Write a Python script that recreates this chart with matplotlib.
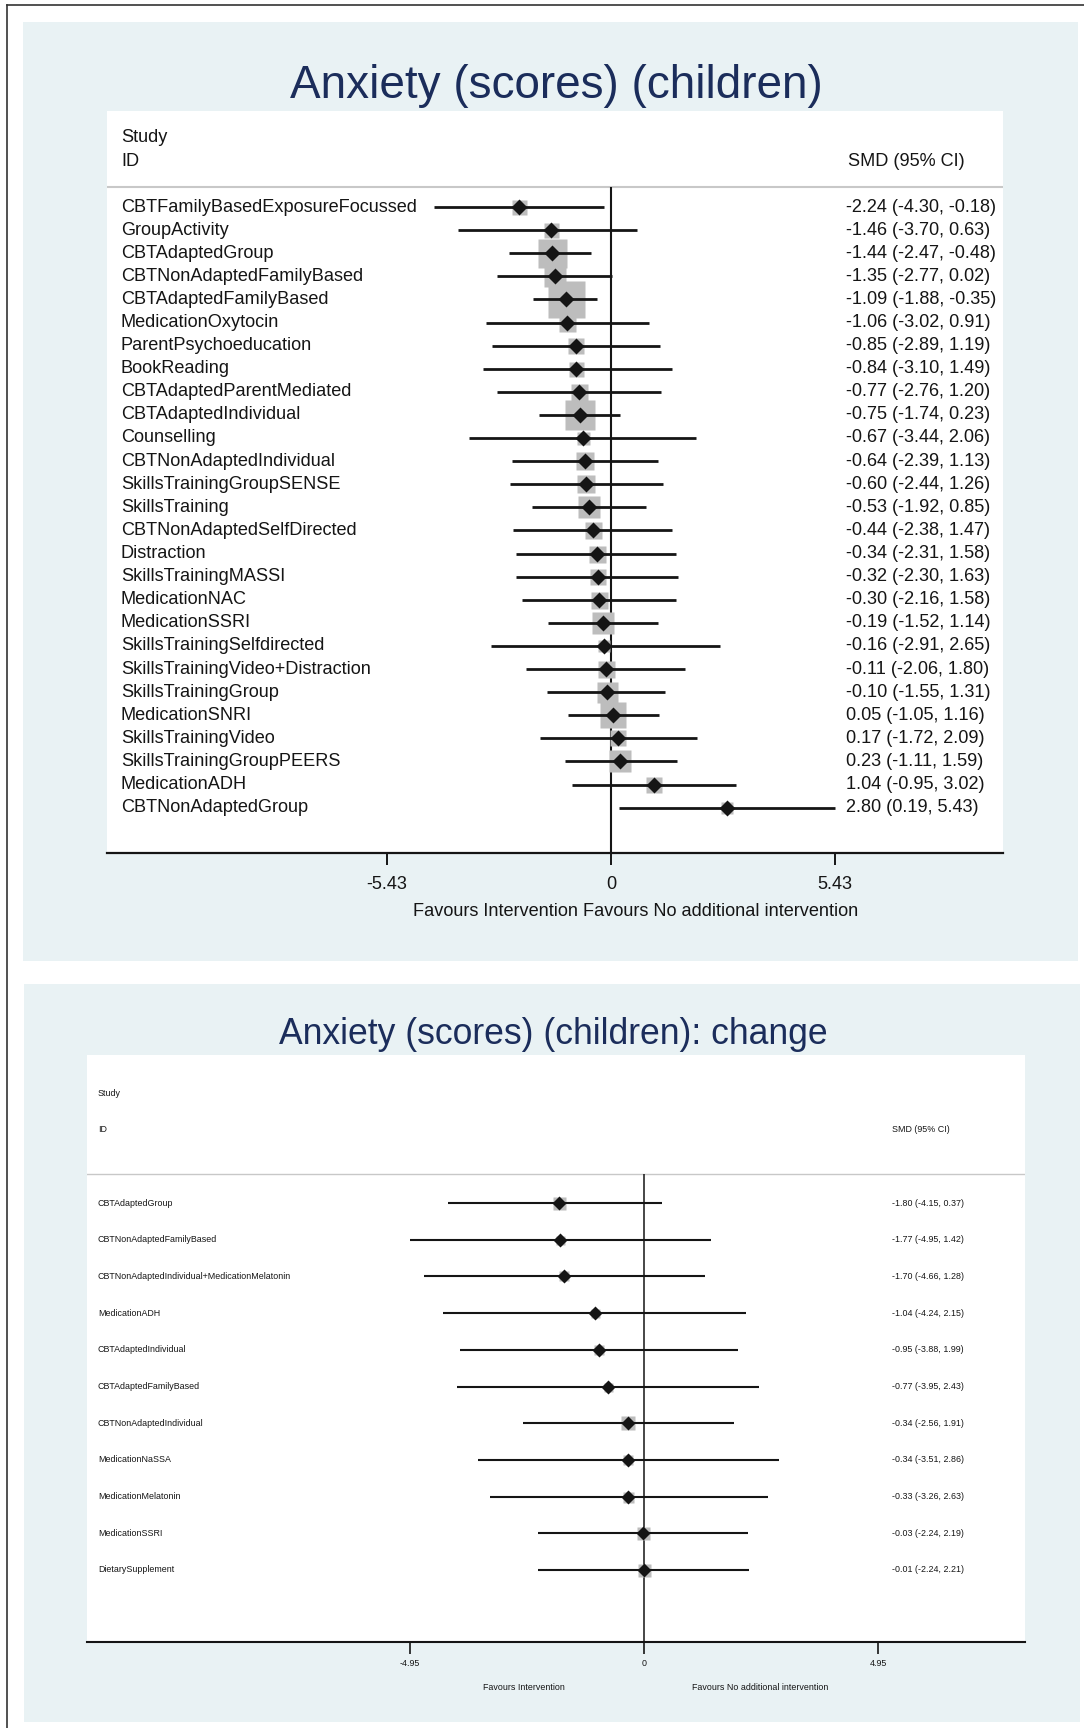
import matplotlib
matplotlib.use("Agg")
import matplotlib.pyplot as plt
import matplotlib.transforms as mtransforms
from matplotlib.patches import Rectangle
from matplotlib.lines import Line2D

plt.rcParams['font.family'] = ['Liberation Sans', 'DejaVu Sans']

# ---------------- data: top panel ----------------
title_top = "Anxiety (scores) (children)"
studies_top = [
    "CBTFamilyBasedExposureFocussed", "GroupActivity", "CBTAdaptedGroup",
    "CBTNonAdaptedFamilyBased", "CBTAdaptedFamilyBased", "MedicationOxytocin",
    "ParentPsychoeducation", "BookReading", "CBTAdaptedParentMediated",
    "CBTAdaptedIndividual", "Counselling", "CBTNonAdaptedIndividual",
    "SkillsTrainingGroupSENSE", "SkillsTraining", "CBTNonAdaptedSelfDirected",
    "Distraction", "SkillsTrainingMASSI", "MedicationNAC", "MedicationSSRI",
    "SkillsTrainingSelfdirected", "SkillsTrainingVideo+Distraction",
    "SkillsTrainingGroup", "MedicationSNRI", "SkillsTrainingVideo",
    "SkillsTrainingGroupPEERS", "MedicationADH", "CBTNonAdaptedGroup",
]
smd_top = [-2.24, -1.46, -1.44, -1.35, -1.09, -1.06, -0.85, -0.84, -0.77, -0.75,
           -0.67, -0.64, -0.60, -0.53, -0.44, -0.34, -0.32, -0.30, -0.19, -0.16,
           -0.11, -0.10, 0.05, 0.17, 0.23, 1.04, 2.80]
lo_top = [-4.30, -3.70, -2.47, -2.77, -1.88, -3.02, -2.89, -3.10, -2.76, -1.74,
          -3.44, -2.39, -2.44, -1.92, -2.38, -2.31, -2.30, -2.16, -1.52, -2.91,
          -2.06, -1.55, -1.05, -1.72, -1.11, -0.95, 0.19]
hi_top = [-0.18, 0.63, -0.48, 0.02, -0.35, 0.91, 1.19, 1.49, 1.20, 0.23,
          2.06, 1.13, 1.26, 0.85, 1.47, 1.58, 1.63, 1.58, 1.14, 2.65,
          1.80, 1.31, 1.16, 2.09, 1.59, 3.02, 5.43]
weight_top = [15, 15, 29, 22, 37, 17, 16, 15, 17, 30, 13, 18, 18, 22, 17, 17, 16,
              17, 23, 12, 17, 21, 27, 16, 23, 16, 12]
ticks_top = [-5.43, 0, 5.43]
tick_labels_top = ["-5.43", "0", "5.43"]

# ---------------- data: bottom panel ----------------
title_bot = "Anxiety (scores) (children): change"
studies_bot = [
    "CBTAdaptedGroup", "CBTNonAdaptedFamilyBased",
    "CBTNonAdaptedIndividual+MedicationMelatonin", "MedicationADH",
    "CBTAdaptedIndividual", "CBTAdaptedFamilyBased", "CBTNonAdaptedIndividual",
    "MedicationNaSSA", "MedicationMelatonin", "MedicationSSRI", "DietarySupplement",
]
smd_bot = [-1.80, -1.77, -1.70, -1.04, -0.95, -0.77, -0.34, -0.34, -0.33, -0.03, -0.01]
lo_bot = [-4.15, -4.95, -4.66, -4.24, -3.88, -3.95, -2.56, -3.51, -3.26, -2.24, -2.24]
hi_bot = [0.37, 1.42, 1.28, 2.15, 1.99, 2.43, 1.91, 2.86, 2.63, 2.19, 2.21]
weight_bot = [13, 9, 10, 9, 10, 9, 14, 10, 11, 13, 13]
ticks_bot = [-4.95, 0, 4.95]
tick_labels_bot = ["-4.95", "0", "4.95"]

# ---------------- figure ----------------
W, H, DPI = 1084, 1728, 100
fig = plt.figure(figsize=(W / DPI, H / DPI), dpi=DPI, facecolor='white')

PANEL = '#e9f2f4'
NAVY = '#1b2d5b'
GRAY_SQ = '#bdbdbd'
INK = '#151515'


def fx(px):
    return px / W


def fy(py):
    return 1 - py / H


def box(l, t, r, b):
    return [fx(l), fy(b), (r - l) / W, (b - t) / H]


# outer frame lines
fig.add_artist(Line2D([fx(7), fx(1084)], [fy(5), fy(5)], color='#333333', lw=1.2,
                      transform=fig.transFigure))
fig.add_artist(Line2D([fx(7), fx(7)], [fy(5), fy(1728)], color='#333333', lw=1.2,
                      transform=fig.transFigure))

# blue panels
for (l, t, r, b) in [(23, 22, 1078, 961), (24, 984, 1080, 1722)]:
    fig.add_artist(Rectangle((fx(l), fy(b)), (r - l) / W, (b - t) / H,
                             transform=fig.transFigure, facecolor=PANEL,
                             edgecolor='none', zorder=0))


def forest(axbox, names, smd, lo, hi, weights, ticks, ticklabels, cfg):
    ax = fig.add_axes(axbox)
    ax.set_facecolor('white')
    ax.set_xlim(cfg['xlim'])
    ax.set_ylim(cfg['ylim'])
    for s in ['top', 'left', 'right']:
        ax.spines[s].set_visible(False)
    ax.spines['bottom'].set_linewidth(cfg['axis_lw'])
    ax.spines['bottom'].set_color(INK)
    ax.set_yticks([])
    ax.set_xticks(ticks)
    ax.set_xticklabels(ticklabels)
    ax.tick_params(axis='x', direction='out', length=cfg['tick_len'],
                   width=cfg['tick_w'], pad=cfg['tick_pad'],
                   labelsize=cfg['fs'], colors=INK)
    ys = list(range(len(names)))
    # separator and zero line
    ax.axhline(cfg['sep'], color='#c8c8c8', lw=cfg['sep_lw'], zorder=1)
    ax.vlines(0, cfg['sep'], cfg['ylim'][0], color=INK, lw=cfg['zero_lw'], zorder=2)
    # weight squares
    for y, x, w in zip(ys, smd, weights):
        ax.plot(x, y, marker='s', ms=w * cfg['sq_scale'], color=GRAY_SQ,
                mec='none', zorder=3, ls='none')
    # CIs
    ax.hlines(ys, lo, hi, color=INK, lw=cfg['ci_lw'], zorder=4)
    # diamonds
    ax.plot(smd, ys, ls='none', marker='D', ms=cfg['dm'], color=INK,
            mec='none', zorder=5)
    tr = mtransforms.blended_transform_factory(ax.transAxes, ax.transData)
    for y, n, s, l_, h_ in zip(ys, names, smd, lo, hi):
        ax.text(cfg['lab_x'], y, n, transform=tr, ha='left', va='center',
                fontsize=cfg['fs'], color=INK)
        ax.text(cfg['val_x'], y, f"{s:.2f} ({l_:.2f}, {h_:.2f})", transform=tr,
                ha='left', va='center', fontsize=cfg['fs'], color=INK)
    ax.text(cfg['lab_x'], cfg['study_y'], "Study", transform=tr, ha='left',
            va='center', fontsize=cfg['fs'], color=INK)
    ax.text(cfg['lab_x'], cfg['id_y'], "ID", transform=tr, ha='left',
            va='center', fontsize=cfg['fs'], color=INK)
    ax.text(cfg['smd_x'], cfg['id_y'], "SMD (95% CI)", transform=tr, ha='left',
            va='center', fontsize=cfg['fs'], color=INK)
    return ax


# top axes: white area 107..1003 x 111..853 px ; zero at 611, 41.25 px/unit
ppu_t = 41.25
row0_t, rstep_t = 207.0, 23.1
cfg_top = dict(
    xlim=(-(611 - 107) / ppu_t, (1003 - 611) / ppu_t),
    ylim=((853 - row0_t) / rstep_t, -(row0_t - 111) / rstep_t),
    axis_lw=1.6, tick_len=8.6, tick_w=1.4, tick_pad=8, fs=13.1,
    sep=-(row0_t - 187) / rstep_t, sep_lw=1.5, zero_lw=1.5, ci_lw=2.0,
    sq_scale=0.72, dm=8.6,
    lab_x=(121 - 107) / 896, val_x=(846 - 107) / 896, smd_x=(848 - 107) / 896,
    study_y=-(row0_t - 138) / rstep_t, id_y=-(row0_t - 162) / rstep_t,
)
forest(box(107, 111, 1003, 853), studies_top, smd_top, lo_top, hi_top,
       weight_top, ticks_top, tick_labels_top, cfg_top)

# bottom axes: white area 87..1025 x 1055..1642 px ; zero at 644, 47.3 px/unit
ppu_b = 47.3
row0_b, rstep_b = 1203.0, 36.7
cfg_bot = dict(
    xlim=(-(644 - 87) / ppu_b, (1025 - 644) / ppu_b),
    ylim=((1642 - row0_b) / rstep_b, -(row0_b - 1055) / rstep_b),
    axis_lw=1.5, tick_len=8.6, tick_w=1.2, tick_pad=3.5, fs=6.4,
    sep=-(row0_b - 1174) / rstep_b, sep_lw=1.0, zero_lw=1.1, ci_lw=1.5,
    sq_scale=0.72, dm=7.2,
    lab_x=(98 - 87) / 938, val_x=(892 - 87) / 938, smd_x=(892 - 87) / 938,
    study_y=-(row0_b - 1093) / rstep_b, id_y=-(row0_b - 1130) / rstep_b,
)
forest(box(87, 1055, 1025, 1642), studies_bot, smd_bot, lo_bot, hi_bot,
       weight_bot, ticks_bot, tick_labels_bot, cfg_bot)

# titles and x labels
fig.text(fx(556), fy(86), title_top, ha='center', va='center', fontsize=33,
         color=NAVY)
fig.text(fx(553), fy(1034), title_bot, ha='center', va='center', fontsize=25.6,
         color=NAVY)
fig.text(fx(636), fy(912), "Favours Intervention Favours No additional intervention",
         ha='center', va='center', fontsize=13.1, color=INK)
fig.text(fx(524), fy(1687), "Favours Intervention", ha='center', va='center',
         fontsize=6.4, color=INK)
fig.text(fx(760), fy(1687), "Favours No additional intervention", ha='center',
         va='center', fontsize=6.4, color=INK)

fig.savefig("out.png", dpi=DPI, facecolor='white')
